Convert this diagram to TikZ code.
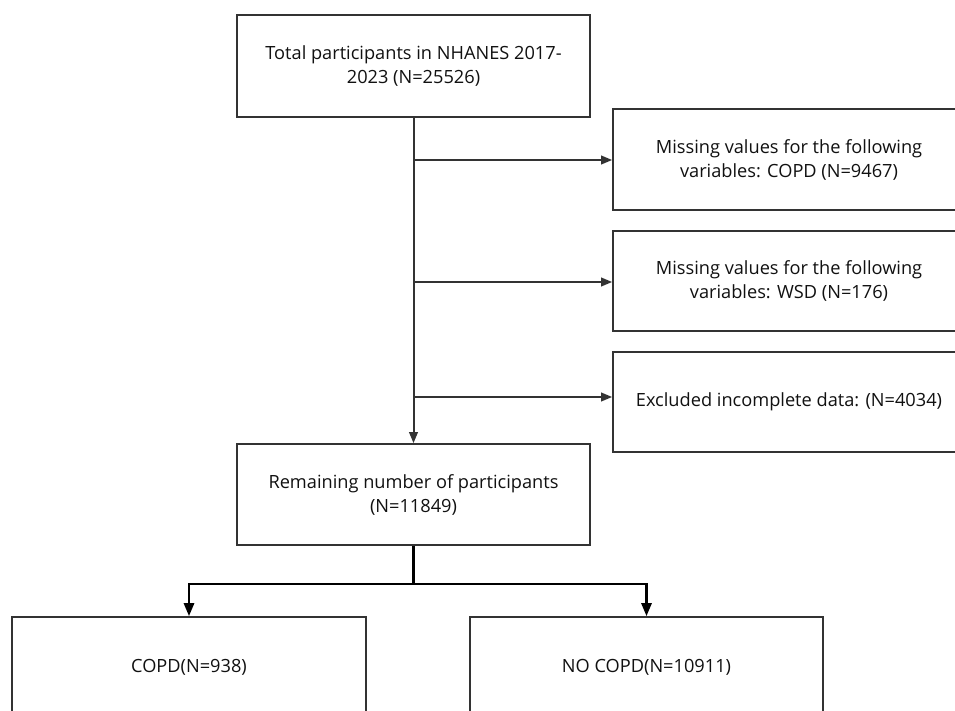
\documentclass[tikz,border=0pt]{standalone}
\usepackage{fontspec}
\setmainfont{Open Sans}
\usetikzlibrary{arrows.meta,calc}
\definecolor{boxline}{HTML}{333333}
\definecolor{txt}{HTML}{111111}
\begin{document}
\begin{tikzpicture}[x=1pt,y=-1pt,
  flowbox/.style={draw=boxline,line width=1.6pt,rectangle,align=center,text=txt,
    font=\fontsize{18.2}{24}\selectfont,inner sep=0pt},
  graylink/.style={draw=boxline,line width=2pt,-{Triangle[length=11pt,width=8.5pt]}},
  blacklink/.style={draw=black,line width=2.6pt},
  blackarrow/.style={draw=black,line width=2.6pt,-{Triangle[length=13pt,width=10pt]}}]
\path[use as bounding box,clip] (0,0) rectangle (955,711);
\fill[white] (0,0) rectangle (955,711);
\node[flowbox,minimum width=353pt,minimum height=102pt] (top) at (413.5,66)
  {Total participants in NHANES 2017-\\2023 (N=25526)};
\node[flowbox,minimum width=352pt,minimum height=101pt] (r1) at (789,159.5)
  {Missing values for the following\\variables: COPD (N=9467)};
\node[flowbox,minimum width=352pt,minimum height=100pt] (r2) at (789,281)
  {Missing values for the following\\variables: WSD (N=176)};
\node[flowbox,minimum width=352pt,minimum height=100pt] (r3) at (789,402)
  {Excluded incomplete data: (N=4034)};
\node[flowbox,minimum width=353pt,minimum height=101pt] (rem) at (413.5,494.5)
  {Remaining number of participants\\(N=11849)};
\node[flowbox,minimum width=354pt,minimum height=100pt] (copd) at (189,667)
  {COPD(N=938)};
\node[flowbox,minimum width=353pt,minimum height=100pt] (nocopd) at (646.5,667)
  {NO COPD(N=10911)};
\coordinate (c1) at (413.5,160);
\coordinate (c2) at (413.5,282);
\coordinate (c3) at (413.5,397);
\coordinate (split) at (413.5,584);
\draw[graylink] (top.south) -- (rem.north);
\draw[graylink] (c1) -- (c1 -| r1.west);
\draw[graylink] (c2) -- (c2 -| r2.west);
\draw[graylink] (c3) -- (c3 -| r3.west);
\draw[blacklink] (rem.south) -- (split);
\draw[blackarrow] (split) -| (copd.north);
\draw[blackarrow] (split) -| (nocopd.north);
\end{tikzpicture}
\end{document}
